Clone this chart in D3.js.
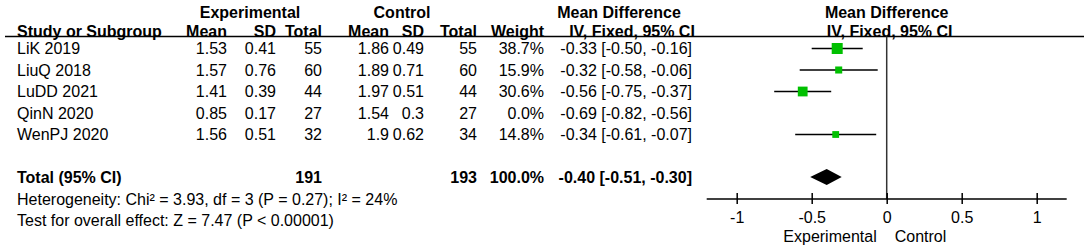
<!DOCTYPE html>
<html>
<head>
<meta charset="utf-8">
<script src="https://cdn.jsdelivr.net/npm/d3@7"></script>
<style>
  body { margin: 0; background: #fff; }
  svg text { font-family: "Liberation Sans", Arial, sans-serif; font-size: 16px; fill: #000; }
  .b { font-weight: bold; }
</style>
</head>
<body>
<div id="forest"></div>
<script>
// Forest plot: mean difference, IV fixed
const studies = ["LiK 2019", "LiuQ 2018", "LuDD 2021", "QinN 2020", "WenPJ 2020"];
const expMean = [1.53, 1.57, 1.41, 0.85, 1.56];
const expSD = [0.41, 0.76, 0.39, 0.17, 0.51];
const expN = [55, 60, 44, 27, 32];
const ctlMean = [1.86, 1.89, 1.97, 1.54, 1.9];
const ctlSD = [0.49, 0.71, 0.51, 0.3, 0.62];
const ctlN = [55, 60, 44, 27, 34];
const weights = [38.7, 15.9, 30.6, 0.0, 14.8];
const md = [-0.33, -0.32, -0.56, -0.69, -0.34];
const ciLow = [-0.50, -0.58, -0.75, -0.82, -0.61];
const ciHigh = [-0.16, -0.06, -0.37, -0.56, -0.07];
const totalN = [191, 193];
const totalWeight = 100.0;
const totalCI = [-0.40, -0.51, -0.30]; // estimate, low, high
const xTicks = [-1, -0.5, 0, 0.5, 1];
const heterogeneity = "Heterogeneity: Chi² = 3.93, df = 3 (P = 0.27); I² = 24%";
const overall = "Test for overall effect: Z = 7.47 (P < 0.00001)";

const W = 1084, H = 246;
const svg = d3.select("#forest").append("svg").attr("width", W).attr("height", H);

const f2 = d => d.toFixed(2);
const ci = (m, l, h) => `${f2(m)} [${f2(l)}, ${f2(h)}]`;

// column right edges
const col = {study: 17, eMean: 227, eSD: 276, eN: 322, cMean: 389, cSD: 424, cN: 477, wt: 544, ci: 692};

const y = d3.scaleLinear().domain([0, studies.length - 1]).range([48.5, 134.5]);
const yTotal = 177, yHet = 199, yTest = 220;
const x = d3.scaleLinear().domain([-1, 1]).range([736.7, 1036.7]);
const size = d3.scaleSqrt().domain([0, d3.max(weights)]).range([0, 11]);
const axisY = 199;

const txt = (s, px, py, anchor, bold) => svg.append("text").attr("x", px).attr("y", py + 5.7)
  .attr("text-anchor", anchor).attr("class", bold ? "b" : null).text(s);

// headers
txt("Experimental", 250, 12, "middle", true);
txt("Control", 402, 12, "middle", true);
txt("Mean Difference", 619, 12, "middle", true);
txt("Mean Difference", x(0), 12, "middle", true);
txt("Study or Subgroup", col.study, 31, "start", true);
txt("Mean", col.eMean, 31, "end", true);
txt("SD", col.eSD, 31, "end", true);
txt("Total", col.eN, 31, "end", true);
txt("Mean", col.cMean, 31, "end", true);
txt("SD", col.cSD, 31, "end", true);
txt("Total", col.cN, 31, "end", true);
txt("Weight", col.wt, 31, "end", true);
txt("IV, Fixed, 95% CI", 632, 31, "middle", true);
txt("IV, Fixed, 95% CI", x(0) + 3, 31, "middle", true);

svg.append("line").attr("x1", 5).attr("x2", W).attr("y1", 36.5).attr("y2", 36.5)
  .attr("stroke", "#000").attr("stroke-width", 1.5);

// study rows
studies.forEach((s, i) => {
  const yy = y(i);
  txt(s, col.study, yy, "start");
  txt(String(expMean[i]), col.eMean, yy, "end");
  txt(String(expSD[i]), col.eSD, yy, "end");
  txt(String(expN[i]), col.eN, yy, "end");
  txt(String(ctlMean[i]), col.cMean, yy, "end");
  txt(String(ctlSD[i]), col.cSD, yy, "end");
  txt(String(ctlN[i]), col.cN, yy, "end");
  txt(weights[i].toFixed(1) + "%", col.wt, yy, "end");
  txt(ci(md[i], ciLow[i], ciHigh[i]), col.ci, yy, "end");
});

// total row
txt("Total (95% CI)", col.study, yTotal, "start", true);
txt(String(totalN[0]), col.eN, yTotal, "end", true);
txt(String(totalN[1]), col.cN, yTotal, "end", true);
txt(totalWeight.toFixed(1) + "%", col.wt, yTotal, "end", true);
txt(ci(totalCI[0], totalCI[1], totalCI[2]), col.ci, yTotal, "end", true);
txt(heterogeneity, col.study, yHet, "start");
txt(overall, col.study, yTest, "start");

// zero line
svg.append("line").attr("x1", x(0)).attr("x2", x(0)).attr("y1", 36.5).attr("y2", axisY)
  .attr("stroke", "#333").attr("stroke-width", 1.5);

// CI lines and squares (weight 0 studies not drawn)
const idx = d3.range(studies.length).filter(i => weights[i] > 0);
svg.append("g").selectAll("line").data(idx).join("line")
  .attr("x1", i => x(ciLow[i])).attr("x2", i => x(ciHigh[i]))
  .attr("y1", i => y(i)).attr("y2", i => y(i))
  .attr("stroke", "#000").attr("stroke-width", 1.5);
svg.append("g").selectAll("rect").data(idx).join("rect")
  .attr("x", i => x(md[i]) - size(weights[i]) / 2).attr("y", i => y(i) - size(weights[i]) / 2)
  .attr("width", i => size(weights[i])).attr("height", i => size(weights[i]))
  .attr("fill", "#00c000");

// diamond
svg.append("path")
  .attr("d", `M${x(totalCI[1])},${yTotal} L${x(totalCI[0])},${yTotal - 8} L${x(totalCI[2])},${yTotal} L${x(totalCI[0])},${yTotal + 8} Z`)
  .attr("fill", "#000");

// axis
const ax = svg.append("g").attr("transform", `translate(0,${axisY})`)
  .call(d3.axisBottom(x).tickValues(xTicks).tickFormat(d => String(d)).tickSizeOuter(0));
ax.select(".domain").remove();
ax.append("line").attr("x1", x(-1.2)).attr("x2", x(1.2)).attr("stroke", "#000").attr("stroke-width", 1.5);
ax.selectAll(".tick line").attr("y1", -6).attr("y2", 5).attr("stroke", "#000").attr("stroke-width", 1.5);
ax.selectAll(".tick text").attr("y", 23.5).attr("dy", null)
  .style("font-family", '"Liberation Sans", Arial, sans-serif').style("font-size", "16px").attr("fill", "#000");

txt("Experimental", x(0) - 10, 236, "end");
txt("Control", x(0) + 8, 236, "start");
</script>
</body>
</html>
